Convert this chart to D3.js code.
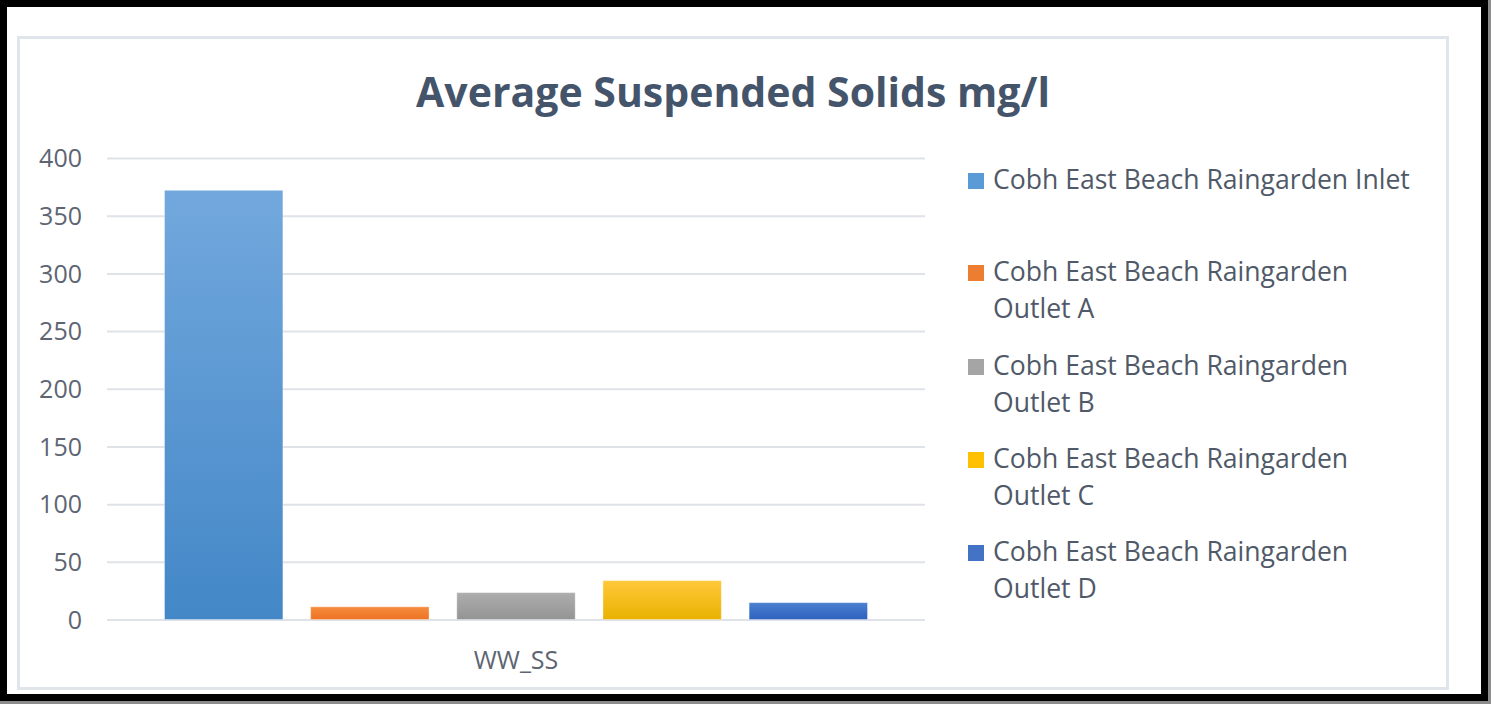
<!DOCTYPE html>
<html>
<head>
<meta charset="utf-8">
<script src="https://cdn.jsdelivr.net/npm/d3@7"></script>
<style>
  html, body { margin: 0; padding: 0; background: #fff; }
  svg { display: block; }
</style>
</head>
<body>
<svg id="chart" width="1491" height="704"></svg>
<script>
// ---- data ----
const chartTitle = "Average Suspended Solids mg/l";
const categories = ["WW_SS"];
const seriesNames = [
  "Cobh East Beach Raingarden Inlet",
  "Cobh East Beach Raingarden Outlet A",
  "Cobh East Beach Raingarden Outlet B",
  "Cobh East Beach Raingarden Outlet C",
  "Cobh East Beach Raingarden Outlet D"
];
const seriesValues = [372, 11, 23.3, 33.7, 14.6];
const yTicks = [0, 50, 100, 150, 200, 250, 300, 350, 400];

// ---- styles ----
const swatchColors = ["#5b9bd5", "#ed7d31", "#a5a5a5", "#ffc000", "#4472c4"];
const gradStops = [
  ["#72a8dd", "#4387c7"],
  ["#f68c3e", "#ee7224"],
  ["#adadad", "#949494"],
  ["#ffc83a", "#e9b200"],
  ["#4b80d1", "#2e62be"]
];
const FONT = "'Open Sans', 'Noto Sans', 'DejaVu Sans', sans-serif";

const svg = d3.select("#chart");
const W = 1491, H = 704;

// outer frame
svg.append("rect").attr("x", 0).attr("y", 0).attr("width", W).attr("height", H).attr("fill", "#8c8c8c");
svg.append("rect").attr("x", 0).attr("y", 0).attr("width", 1488).attr("height", 701).attr("fill", "#000");
svg.append("rect").attr("x", 7).attr("y", 7).attr("width", 1474).attr("height", 687).attr("fill", "#fff");

// chart area border
svg.append("rect").attr("x", 18.5).attr("y", 37.5).attr("width", 1429).attr("height", 651)
  .attr("fill", "#fff").attr("stroke", "#e0e4eb").attr("stroke-width", 3);

// gradients
const defs = svg.append("defs");
gradStops.forEach((g, i) => {
  const lg = defs.append("linearGradient").attr("id", "g" + i)
    .attr("x1", 0).attr("y1", 0).attr("x2", 0).attr("y2", 1);
  lg.append("stop").attr("offset", "0%").attr("stop-color", g[0]);
  lg.append("stop").attr("offset", "100%").attr("stop-color", g[1]);
});

// scales
const plot = { left: 107, right: 925, top: 158, bottom: 619.5 };
const y = d3.scaleLinear().domain([0, 400]).range([plot.bottom, plot.top]);
const x0 = d3.scaleBand().domain(categories).range([plot.left, plot.right]).paddingOuter(0.0818).paddingInner(0);
const x1 = d3.scaleBand().domain(d3.range(seriesNames.length)).range([0, x0.bandwidth()]).paddingInner(0.19).paddingOuter(0);

// gridlines
const grid = svg.append("g")
  .call(d3.axisLeft(y).tickValues(yTicks).tickSize(-(plot.right - plot.left)).tickFormat(""))
  .attr("transform", `translate(${plot.left},0)`);
grid.select(".domain").remove();
grid.selectAll(".tick line").attr("stroke", "#dfe2e8").attr("stroke-width", 2);

// y tick labels
const yAxis = svg.append("g").attr("transform", `translate(82,0)`)
  .call(d3.axisLeft(y).tickValues(yTicks).tickSize(0).tickPadding(0));
yAxis.select(".domain").remove();
yAxis.selectAll(".tick text")
  .attr("font-family", FONT).attr("font-size", 25).attr("fill", "#5d6572")
  .attr("dy", "0.35em");

// x axis label
const xAxis = svg.append("g").attr("transform", `translate(0,${plot.bottom})`)
  .call(d3.axisBottom(x0).tickSize(0).tickPadding(0));
xAxis.select(".domain").remove();
xAxis.selectAll(".tick text")
  .attr("font-family", FONT).attr("font-size", 25).attr("fill", "#5d6572")
  .attr("y", 49).attr("dy", 0);

// bars
const groups = svg.append("g").selectAll("g").data(categories).join("g")
  .attr("transform", d => `translate(${x0(d)},0)`);
groups.selectAll("rect").data(seriesValues.map((v, i) => ({ v, i }))).join("rect")
  .attr("x", d => x1(d.i))
  .attr("width", x1.bandwidth())
  .attr("y", d => y(d.v))
  .attr("height", d => y(0) - y(d.v))
  .attr("fill", d => `url(#g${d.i})`)
  .attr("stroke", "rgba(255,255,255,0.35)").attr("stroke-width", 1);

// title (fit to reference width)
const title = svg.append("text").text(chartTitle)
  .attr("x", 733).attr("y", 107).attr("text-anchor", "middle")
  .attr("font-family", FONT).attr("font-weight", 700).attr("font-size", 40).attr("fill", "#44546a");
const tw = title.node().getComputedTextLength();
title.attr("font-size", 40 * 634 / tw);

// legend
const legend = svg.append("g");
const legX = 968, textX = 993;
const entryTop = [189, 281, 375, 468, 561];
// fit legend font so the first (single-line) entry spans ~417px, as in the reference
const meas = legend.append("text").attr("font-family", FONT).attr("font-size", 25).text(seriesNames[0]);
const legFS = 25 * 417 / meas.node().getComputedTextLength();
meas.remove();
const maxW = 428;
seriesNames.forEach((name, i) => {
  const g = legend.append("g");
  g.append("rect").attr("x", legX).attr("y", entryTop[i] - 16).attr("width", 16).attr("height", 16)
    .attr("fill", swatchColors[i]);
  const t = g.append("text").attr("x", textX).attr("y", entryTop[i])
    .attr("font-family", FONT).attr("font-size", legFS).attr("fill", "#4f5968");
  const words = name.split(" ");
  let line = [], lines = [];
  const probe = t.append("tspan");
  words.forEach(w => {
    const test = line.concat([w]).join(" ");
    probe.text(test);
    if (probe.node().getComputedTextLength() > maxW && line.length) {
      lines.push(line.join(" "));
      line = [w];
    } else line.push(w);
  });
  lines.push(line.join(" "));
  probe.remove();
  lines.forEach((ln, k) => {
    t.append("tspan").attr("x", textX).attr("dy", k === 0 ? 0 : 37).text(ln);
  });
});
</script>
</body>
</html>
